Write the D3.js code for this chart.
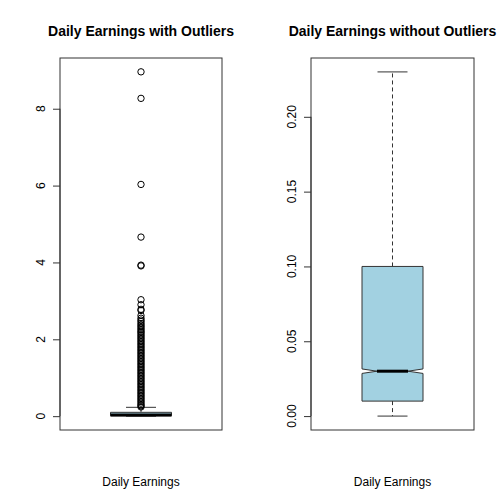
<!DOCTYPE html>
<html><head><meta charset="utf-8">
<script src="https://cdn.jsdelivr.net/npm/d3@7"></script>
<style>body{margin:0;background:#fff}text{font-family:"Liberation Sans",Arial,sans-serif}</style>
</head><body><svg id="c" width="504" height="504"></svg>
<script>
// Box statistics (same for both panels)
const stats = { min: 0, q1: 0.01, median: 0.03, q3: 0.10, max: 0.23, notchLo: 0.0285, notchHi: 0.0315 };
// Outliers
const outliers = [8.96, 8.27, 6.03, 4.66, 3.93, 3.91, 3.03, 2.90, 2.78, 2.75, 2.62, 2.55, 2.50, 2.46,
  2.41, 2.37, 2.33, 2.29, 2.25, 2.21, 2.18, 2.14, 2.10, 2.06, 2.02, 1.98, 1.94, 1.90, 1.86, 1.82,
  1.78, 1.74, 1.70, 1.66, 1.62, 1.58, 1.54, 1.50, 1.46, 1.42, 1.38, 1.34, 1.30, 1.26, 1.22, 1.18,
  1.14, 1.10, 1.06, 1.02, 0.98, 0.94, 0.90, 0.86, 0.82, 0.78, 0.74, 0.70, 0.66, 0.62, 0.58, 0.54,
  0.50, 0.46, 0.42, 0.38, 0.34, 0.30, 0.27, 0.24];
const leftTicks = [0, 2, 4, 6, 8];
const rightTicks = [0, 0.05, 0.10, 0.15, 0.20];
const titles = ["Daily Earnings with Outliers", "Daily Earnings without Outliers"];
const xLabel = "Daily Earnings";
const fill = "#a2d1e1";

const svg = d3.select("#c");

function panel(x0, x1, yDomain, ticks, fmt, title, notch, pts) {
  const top = 58, bottom = 430;
  const y = d3.scaleLinear().domain(yDomain).range([bottom, top]);
  const cx = (x0 + x1) / 2, hw = 30.5;
  const g = svg.append("g");

  g.append("text").attr("x", cx).attr("y", 36).attr("text-anchor", "middle")
    .attr("font-size", 14).attr("font-weight", "bold").text(title);
  g.append("text").attr("x", cx).attr("y", 486).attr("text-anchor", "middle")
    .attr("font-size", 12).text(xLabel);

  const ax = g.append("g").attr("transform", `translate(${x0},0)`)
    .call(d3.axisLeft(y).tickValues(ticks).tickFormat("").tickSize(7));
  ax.select(".domain").remove();
  ax.selectAll("line").attr("stroke", "#333");
  g.selectAll("text.tl").data(ticks).join("text").attr("class", "tl")
    .attr("transform", d => `translate(${x0 - 15},${y(d)}) rotate(-90)`)
    .attr("text-anchor", "middle").attr("font-size", 12).text(fmt);
  g.append("line").attr("x1", x0).attr("x2", x0)
    .attr("y1", y(ticks[0])).attr("y2", y(ticks[ticks.length - 1])).attr("stroke", "#333");

  // whiskers
  g.append("line").attr("x1", cx).attr("x2", cx).attr("y1", y(stats.q3)).attr("y2", y(stats.max))
    .attr("stroke", "#333").attr("stroke-dasharray", "4,3");
  g.append("line").attr("x1", cx).attr("x2", cx).attr("y1", y(stats.q1)).attr("y2", y(stats.min))
    .attr("stroke", "#333").attr("stroke-dasharray", "4,3");
  [stats.max, stats.min].forEach(v => g.append("line").attr("x1", cx - 15).attr("x2", cx + 15)
    .attr("y1", y(v)).attr("y2", y(v)).attr("stroke", "#333"));

  // box
  const l = cx - hw, r = cx + hw, ni = notch ? 15 : 0;
  const path = notch
    ? [[l, y(stats.q3)], [r, y(stats.q3)], [r, y(stats.notchHi)], [r - ni, y(stats.median)], [r, y(stats.notchLo)],
       [r, y(stats.q1)], [l, y(stats.q1)], [l, y(stats.notchLo)], [l + ni, y(stats.median)], [l, y(stats.notchHi)]]
    : [[l, y(stats.q3)], [r, y(stats.q3)], [r, y(stats.q1)], [l, y(stats.q1)]];
  g.append("path").attr("d", d3.line()(path) + "Z").attr("fill", fill).attr("stroke", "#333");
  g.append("line").attr("x1", l + ni).attr("x2", r - ni).attr("y1", y(stats.median)).attr("y2", y(stats.median))
    .attr("stroke", "#000").attr("stroke-width", 3);

  g.selectAll("circle.o").data(pts).join("circle").attr("cx", cx).attr("cy", d => y(d)).attr("r", 3.2)
    .attr("fill", "none").attr("stroke", "#000").attr("stroke-width", 1);

  g.append("rect").attr("x", x0).attr("y", top).attr("width", x1 - x0).attr("height", bottom - top)
    .attr("fill", "none").attr("stroke", "#333");
}

panel(60, 222, [-0.36, 9.32], leftTicks, d3.format("d"), titles[0], false, outliers);
panel(311, 474, [-0.0093, 0.2393], rightTicks, d3.format(".2f"), titles[1], true, []);
</script></body></html>
